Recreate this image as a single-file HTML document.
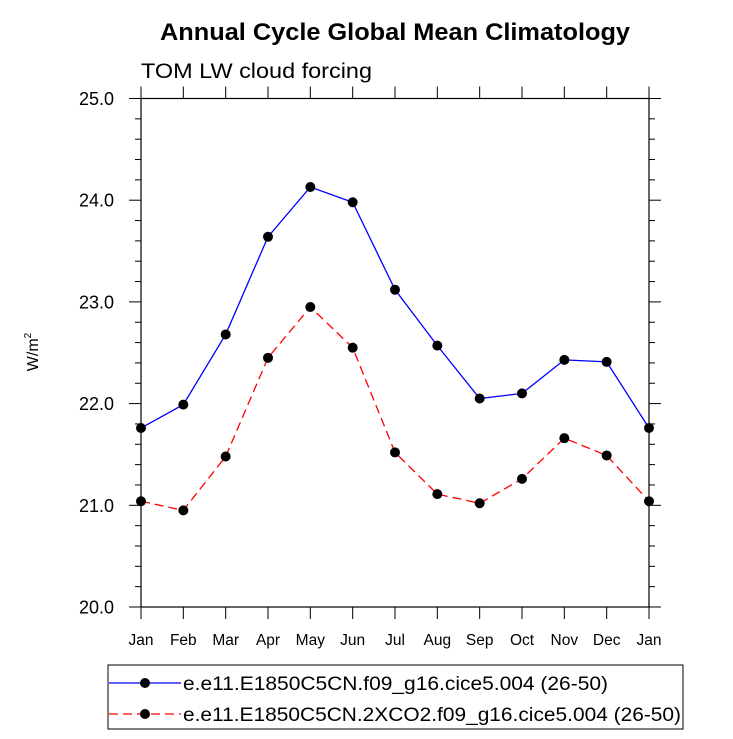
<!DOCTYPE html>
<html><head><meta charset="utf-8"><style>
body{margin:0;background:#fff;}
svg{display:block;font-family:"Liberation Sans",sans-serif;}
</style></head><body>
<svg id="chart" width="733" height="739" viewBox="0 0 733 739">
<text x="395" y="40" text-anchor="middle" font-size="24" font-weight="bold" textLength="470" lengthAdjust="spacingAndGlyphs">Annual Cycle Global Mean Climatology</text>
<text x="141" y="78" font-size="21" textLength="231" lengthAdjust="spacingAndGlyphs">TOM LW cloud forcing</text>
<text transform="translate(38,352) rotate(-90)" text-anchor="middle" font-size="16">W/m<tspan dy="-7" font-size="10">2</tspan></text>
<g id="axes"></g>
<g id="series"></g>
<rect x="108" y="665" width="575" height="64" fill="none" stroke="#000" stroke-width="1"/>
<g>
<line x1="109" y1="683" x2="181" y2="683" stroke="#00f" stroke-width="1.3"/>
<circle cx="145" cy="683" r="5" fill="#000"/>
<text x="183" y="690" font-size="19" textLength="425" lengthAdjust="spacingAndGlyphs">e.e11.E1850C5CN.f09_g16.cice5.004 (26-50)</text>
</g>
<g>
<line x1="109" y1="714" x2="181" y2="714" stroke="#f00" stroke-width="1.3" stroke-dasharray="9,5"/>
<circle cx="145" cy="714" r="5" fill="#000"/>
<text x="183" y="721" font-size="19" textLength="498" lengthAdjust="spacingAndGlyphs">e.e11.E1850C5CN.2XCO2.f09_g16.cice5.004 (26-50)</text>
</g>
</svg>
<script>
const months = ["Jan","Feb","Mar","Apr","May","Jun","Jul","Aug","Sep","Oct","Nov","Dec","Jan"];
const controlValues = [21.76,21.99,22.68,23.64,24.13,23.98,23.12,22.57,22.05,22.10,22.43,22.41,21.76];
const co2Values = [21.04,20.95,21.48,22.45,22.95,22.55,21.52,21.11,21.02,21.26,21.66,21.49,21.04];
const yTicks = [20.0,21.0,22.0,23.0,24.0,25.0];
const yMin = 20, yMax = 25;
const L=141,R=649,T=98.5,B=607;
const NS="http://www.w3.org/2000/svg";
function xs(i){return L+(R-L)*i/(months.length-1);}
function ys(v){return B-(v-yMin)/(yMax-yMin)*(B-T);}
function mk(tag,attrs,parent){const e=document.createElementNS(NS,tag);for(const k in attrs)e.setAttribute(k,attrs[k]);parent.appendChild(e);return e;}
const ax=document.getElementById('axes');
const frame=mk('rect',{x:L,y:T,width:R-L,height:B-T,fill:'none',stroke:'#000','stroke-width':1.2},ax);


for(let v=yMin;v<=yMax+1e-9;v+=0.2){
  const y=ys(v);const major=Math.abs(v-Math.round(v))<1e-6;const len=major?12:6;
  mk('line',{x1:L-len,y1:y,x2:L,y2:y,stroke:'#000','stroke-width':1},ax);
  mk('line',{x1:R,y1:y,x2:R+len,y2:y,stroke:'#000','stroke-width':1},ax);
}
yTicks.forEach(v=>{
  const t=mk('text',{x:114,y:ys(v)+6.5,'text-anchor':'end','font-size':18},ax);
  t.textContent=v.toFixed(1);
  
  
});
months.forEach((m,i)=>{
  const x=xs(i);
  mk('line',{x1:x,y1:B,x2:x,y2:B+12,stroke:'#000','stroke-width':1},ax);
  mk('line',{x1:x,y1:T,x2:x,y2:T-12,stroke:'#000','stroke-width':1},ax);
  const t=mk('text',{x:x,y:645,'text-anchor':'middle','font-size':15.5},ax);
  t.textContent=m;
  
  
});
const sg=document.getElementById('series');
function drawSeries(vals,color,dash,name){
  const g=mk('g',{},sg);
  
  
  const pts=vals.map((v,i)=>xs(i)+','+ys(v)).join(' ');
  const pl=mk('polyline',{points:pts,fill:'none',stroke:color,'stroke-width':1.3},g);
  if(dash)pl.setAttribute('stroke-dasharray',dash);
  
  
  vals.forEach((v,i)=>{
    const c=mk('circle',{cx:xs(i),cy:ys(v),r:5,fill:'#000'},g);
    
    
  });
}
drawSeries(controlValues,'#00f',null,'control-series');
drawSeries(co2Values,'#f00','9,5','co2-series');
</script>
</body></html>
